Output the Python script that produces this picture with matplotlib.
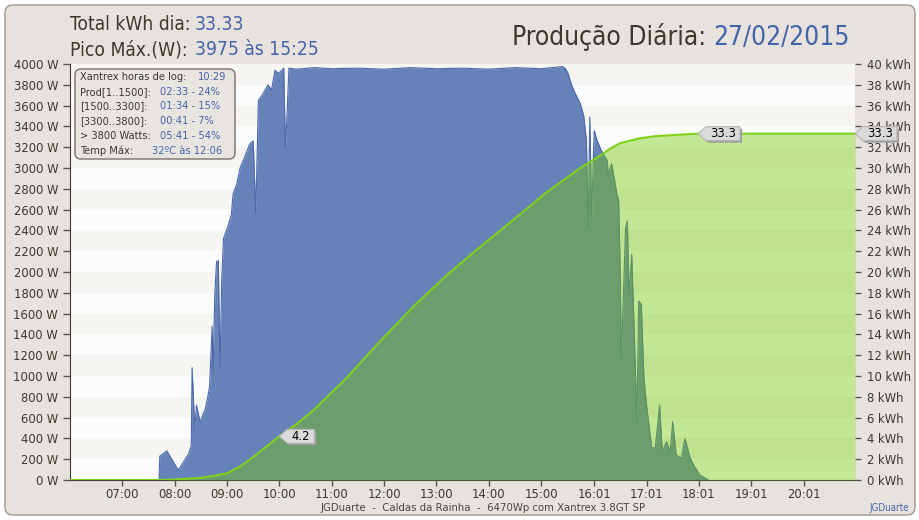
import matplotlib
matplotlib.use('Agg')
import matplotlib.pyplot as plt
from matplotlib.patches import FancyBboxPatch, Polygon
from matplotlib.transforms import IdentityTransform

plt.rcParams['font.family'] = ['DejaVu Sans']
plt.rcParams['font.stretch'] = 'condensed'

# ---- dados ----
hora_pot = ['07:42', '07:43', '07:51', '08:04', '08:16', '08:19', '08:20', '08:23', '08:25', '08:29',
            '08:35', '08:38', '08:40', '08:43', '08:44', '08:46', '08:48', '08:50', '08:52', '08:54',
            '08:56', '09:01', '09:05', '09:07', '09:11', '09:15', '09:20', '09:26', '09:30', '09:33',
            '09:36', '09:41', '09:47', '09:51', '09:55', '09:59', '10:03', '10:05', '10:07', '10:09',
            '10:11', '10:20', '10:40', '11:00', '11:30', '12:00', '12:30', '13:00', '13:30', '14:00',
            '14:30', '15:00', '15:25', '15:28', '15:31', '15:35', '15:39', '15:45', '15:49', '15:52',
            '15:54', '15:56', '15:58', '16:01', '16:04', '16:08', '16:11', '16:16', '16:17', '16:21',
            '16:25', '16:27', '16:29', '16:31', '16:32', '16:37', '16:39', '16:41', '16:44', '16:47',
            '16:50', '16:52', '16:55', '16:58', '17:01', '17:07', '17:11', '17:16', '17:19', '17:24',
            '17:28', '17:31', '17:35', '17:41', '17:45', '17:51', '17:56', '18:02', '18:12']
watts = [0, 230, 280, 95, 250, 330, 1080, 480, 720, 560,
         680, 800, 900, 1480, 1030, 1780, 2100, 2110, 1070, 1940,
         2320, 2440, 2550, 2750, 2840, 3000, 3100, 3230, 3260, 2570,
         3650, 3710, 3800, 3750, 3940, 3910, 3940, 3960, 3180, 3550,
         3960, 3950, 3965, 3955, 3960, 3950, 3965, 3955, 3960, 3950,
         3965, 3955, 3975, 3955, 3910, 3800, 3720, 3620, 3500, 3270,
         2430, 3490, 2530, 3360, 3270, 3190, 3140, 3070, 2940, 3040,
         2850, 2750, 2690, 1950, 1140, 2430, 2490, 1790, 2170, 1400,
         560, 1720, 1690, 980, 720, 310, 310, 720, 270, 370,
         270, 560, 240, 210, 400, 210, 130, 50, 0]

hora_kwh = ['06:00', '07:43', '08:00', '08:30', '08:45', '09:00', '09:15', '09:30', '09:45', '10:00',
            '10:20', '10:39', '11:17', '11:55', '12:34', '13:12', '13:50', '14:28', '15:07', '15:45',
            '16:08', '16:20', '16:31', '16:53', '17:10', '17:32', '18:00', '21:00']
kwh = [0, 0, 0.05, 0.2, 0.4, 0.65, 1.3, 2.2, 3.2, 4.2,
       5.4, 6.7, 9.8, 13.3, 16.7, 19.7, 22.4, 25.0, 27.7, 30.0,
       31.2, 31.9, 32.4, 32.85, 33.05, 33.17, 33.3, 33.3]

xt_horas = [7, 8, 9, 10, 11, 12, 13, 14, 15, 16 + 1/60, 17 + 1/60, 18 + 1/60, 19 + 1/60, 20 + 1/60]
xt_labels = ['07:00', '08:00', '09:00', '10:00', '11:00', '12:00', '13:00', '14:00', '15:00',
             '16:01', '17:01', '18:01', '19:01', '20:01']

info_labels = ['Xantrex horas de log:', 'Prod[1..1500]:', '[1500..3300]:', '[3300..3800]:',
               '> 3800 Watts:', 'Temp Máx:']
info_valores = ['10:29', '02:33 - 24%', '01:34 - 15%', '00:41 - 7%', '05:41 - 54%', '32ºC às 12:06']


def h(s):
    a, b = s.split(':')
    return int(a) + int(b) / 60


def px(x, y):
    return x / 920, 1 - y / 520


W, H = 920, 520
AZUL = '#4464aa'
ESCURO = '#3d3730'

fig = plt.figure(figsize=(9.2, 5.2), dpi=100)
fig.patch.set_facecolor('white')
fig.add_artist(FancyBboxPatch((5, 5), 910, 510, boxstyle='round,pad=0,rounding_size=8',
                              transform=IdentityTransform(), fc='#e7e2dd', ec='#9a9590', lw=1, zorder=-1))

ax = fig.add_axes([70 / W, 40 / H, 785 / W, 416 / H])
ax.set_facecolor('#fbfcfe')
ax.set_xlim(6, 21)
ax.set_ylim(0, 4000)
for k in range(10):
    ax.axhspan(200 + 400 * k, 400 + 400 * k, color='#f7f5f2', lw=0, zorder=0)

tp = [h(s) for s in hora_pot]
ax.fill_between(tp, watts, color='#6781b9', lw=0, zorder=2)
ax.plot(tp, watts, color='#4a69ab', lw=0.8, zorder=3)

ax.set_yticks(range(0, 4001, 200))
ax.set_yticklabels([f'{v} W' for v in range(0, 4001, 200)])
ax.set_xticks(xt_horas)
ax.set_xticklabels(xt_labels)
ax.tick_params(direction='out', length=5, width=1, color='#555555', labelsize=9.3,
               labelcolor=ESCURO, pad=3.5)
ax.tick_params(axis='x', length=4, pad=1.5)
for s in ['top', 'right']:
    ax.spines[s].set_visible(False)
for s in ['left', 'bottom']:
    ax.spines[s].set_color('#3c3c3c')

ax2 = ax.twinx()
ax2.set_ylim(0, 40)
te = [h(s) for s in hora_kwh]
ax2.fill_between(te, kwh, color=(113 / 255, 201 / 255, 0), alpha=0.41, lw=0)
ax2.plot(te, kwh, color='#7fd11b', lw=1.5)
ax2.set_yticks(range(0, 41, 2))
ax2.set_yticklabels([f'{v} kWh' for v in range(0, 41, 2)])
ax2.tick_params(direction='out', length=4, width=1, color='#555555', labelsize=9.3,
                labelcolor=ESCURO, pad=5)
for s in ax2.spines.values():
    s.set_visible(False)


def etiqueta(xd, yd, txt):
    X, Y = ax2.transData.transform((xd, yd))
    w = 14 + 7 * len(txt)
    pts = [(X, Y), (X + 8, Y + 7), (X + w, Y + 7), (X + w, Y - 7), (X + 8, Y - 7)]
    sombra = [(a + 2, b - 2) for a, b in pts]
    fig.add_artist(Polygon(sombra, closed=True, transform=IdentityTransform(), fc='#9c9c9c', ec='none', zorder=5))
    fig.add_artist(Polygon(pts, closed=True, transform=IdentityTransform(), fc='#dadada', ec='#b4b4b4', lw=0.8, zorder=6))
    fig.text((X + 8 + (w - 8) / 2) / W, Y / H, txt, ha='center', va='center', fontsize=9.3, color='black', zorder=7)


etiqueta(te[9], kwh[9], f'{kwh[9]:.1f}')
etiqueta(te[-2], kwh[-2], f'{kwh[-2]:.1f}')
etiqueta(te[-1], kwh[-1], f'{kwh[-1]:.1f}')

# caixa de info
fig.add_artist(FancyBboxPatch((75, H - 159), 160, 90, boxstyle='round,pad=0,rounding_size=6',
                              transform=IdentityTransform(), fc='#e8e4df', ec='#77726c', lw=1, zorder=4))
ys = [76.7, 91.7, 105.7, 121, 136, 150.7]
xv = [198, 160, 160, 160, 160, 152]
for i in range(6):
    fig.text(*px(80.5, ys[i]), info_labels[i], fontsize=7.9, color=ESCURO, va='center', zorder=5)
    fig.text(*px(xv[i], ys[i]), info_valores[i], fontsize=7.9, color=AZUL, va='center', zorder=5)

# cabecalho
fig.text(*px(70, 30), 'Total kWh dia:', fontsize=13.8, color=ESCURO, va='baseline')
fig.text(*px(195, 30), '33.33', fontsize=13.8, color=AZUL, va='baseline')
fig.text(*px(70, 55), 'Pico Máx.(W):', fontsize=13.8, color=ESCURO, va='baseline')
fig.text(*px(195, 55), '3975 às 15:25', fontsize=13.8, color=AZUL, va='baseline')
fig.text(*px(706, 45), 'Produção Diária:', fontsize=18.9, color=ESCURO, va='baseline', ha='right')
fig.text(*px(713, 45), '27/02/2015', fontsize=18.9, color=AZUL, va='baseline', ha='left')

# rodape
fig.text(*px(483, 508), 'JGDuarte  -  Caldas da Rainha  -  6470Wp com Xantrex 3.8GT SP',
         fontsize=8.1, color='#4a4540', ha='center', va='center')
fig.text(*px(909, 508), 'JGDuarte', fontsize=7, color=AZUL, ha='right', va='center')

fig.savefig('out.png', dpi=100)
